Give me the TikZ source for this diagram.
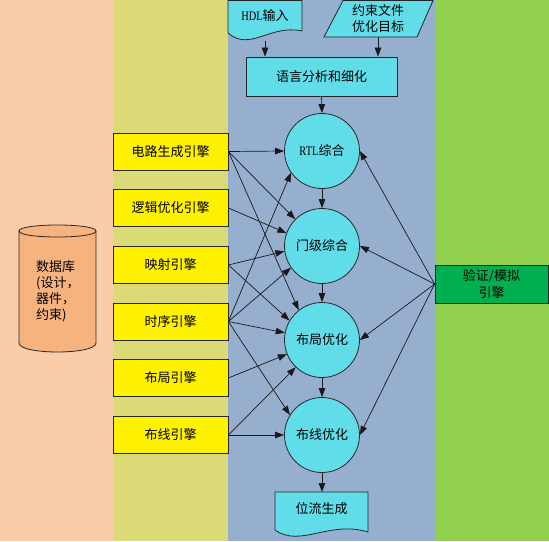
\documentclass[tikz,border=0pt]{standalone}
\usepackage{fontspec}
\newfontfamily\cjk{Noto Sans CJK SC}
\newfontfamily\latn[FakeStretch=0.8]{Liberation Serif}
\usetikzlibrary{arrows.meta}
\definecolor{pinkband}{RGB}{250,205,170}
\definecolor{yelband}{RGB}{218,218,118}
\definecolor{blueband}{RGB}{150,175,207}
\definecolor{greenband}{RGB}{146,208,80}
\definecolor{cyanfill}{RGB}{97,221,233}
\definecolor{cylfill}{RGB}{247,179,125}
\definecolor{verfill}{RGB}{0,176,80}
\begin{document}
\begin{tikzpicture}[x=1pt,y=-1pt,
  every node/.style={font=\cjk\fontsize{13}{16}\selectfont, inner sep=0pt},
  engbox/.style={draw=black!85, line width=0.8pt, fill=yellow, minimum width=115pt, minimum height=37pt},
  proc/.style={circle, draw=black!85, line width=0.8pt, fill=cyanfill, minimum size=75pt},
  shp/.style={draw=black!85, line width=0.8pt, fill=cyanfill},
  arr/.style={-{Triangle[length=9pt,width=6.5pt]}, line width=0.7pt, draw=black!90}]
\useasboundingbox (0,0) rectangle (549,541);
% bands
\fill[pinkband] (0,0) rectangle (113,541);
\fill[yelband] (113,0) rectangle (228,541);
\fill[blueband] (228,0) rectangle (435,541);
\fill[greenband] (435,0) rectangle (549,541);
% database cylinder
\draw[fill=cylfill, line width=0.8pt, draw=black!85] (19,231) -- (19,343) .. controls (19,355) and (96,355) .. (96,343) -- (96,231) .. controls (96,223) and (19,223) .. (19,231) -- cycle;
\draw[line width=0.8pt, draw=black!85] (96,231) .. controls (96,239) and (19,239) .. (19,231);
\node[align=left, anchor=west] (db) at (36,291) {数据库\\(设计，\\器件，\\约束)};
% HDL input document
\draw[shp] (228,0.5) -- (302,0.5) -- (302,31) .. controls (270,24) and (250,52) .. (228,33) -- cycle;
\node (hdl) at (265,16) {{\latn HDL}输入};
\coordinate (hdlb) at (265,41);
% constraints parallelogram
\draw[shp] (343,0.5) -- (433,0.5) -- (417,37) -- (324,37) -- cycle;
\node[align=center] (cons) at (378,19) {约束文件\\优化目标};
\coordinate (consb) at (378,37);
% language analysis box
\node[draw=black!85, line width=0.8pt, fill=cyanfill, minimum width=151pt, minimum height=39pt] (lang) at (321.5,76.5) {语言分析和细化};
% engines
\node[engbox] (e1) at (170.5,151.5) {电路生成引擎};
\node[engbox] (e2) at (170.5,208) {逻辑优化引擎};
\node[engbox] (e3) at (170.5,265) {映射引擎};
\node[engbox] (e4) at (170.5,321.5) {时序引擎};
\node[engbox] (e5) at (170.5,378) {布局引擎};
\node[engbox] (e6) at (170.5,435) {布线引擎};
% process circles
\node[proc] (c1) at (322,151) {{\latn RTL}综合};
\node[proc] (c2) at (322,246) {门级综合};
\node[proc] (c3) at (322,340) {布局优化};
\node[proc] (c4) at (322,435) {布线优化};
% verification
\node[draw=black!85, line width=0.8pt, fill=verfill, minimum width=113pt, minimum height=38pt, align=center, font=\cjk\fontsize{13}{17}\selectfont] (ver) at (491.5,284) {验证/模拟\\引擎};
% bitstream document
\draw[shp] (275,492) -- (368,492) -- (368,532) .. controls (330,520) and (300,548) .. (275,530) -- cycle;
\node (bs) at (321.5,509) {位流生成};
\coordinate (bst) at (322,492);
% top arrows
\draw[arr] (hdlb) -- (hdlb |- lang.north);
\draw[arr] (consb) -- (consb |- lang.north);
\draw[arr] (lang.south) -- (c1.north);
% chain
\draw[arr] (c1.south) -- (c2.north);
\draw[arr] (c2.south) -- (c3.north);
\draw[arr] (c3.south) -- (c4.north);
\draw[arr] (c4.south) -- (bst);
% engines to processes
\draw[arr] (e1.east) -- (c1.west);
\draw[arr] (e1.east) -- (c2.135);
\draw[arr] (e1.east) -- (c3.128);
\draw[arr] (e2.east) -- (c2.160);
\draw[arr] (e3.east) -- (c2.188);
\draw[arr] (e3.east) -- (c3.149);
\draw[arr] (e4.east) -- (c1.215);
\draw[arr] (e4.east) -- (c2.215);
\draw[arr] (e4.east) -- (c3.169);
\draw[arr] (e4.east) -- (c4.148);
\draw[arr] (e5.east) -- (c3.202);
\draw[arr] (e6.east) -- (c3.226);
\draw[arr] (e6.east) -- (c4.west);
% verification to processes
\draw[arr] (ver.west) -- (c1.east);
\draw[arr] (ver.west) -- (c2.east);
\draw[arr] (ver.west) -- (c3.east);
\draw[arr] (ver.west) -- (c4.east);
\end{tikzpicture}
\end{document}
